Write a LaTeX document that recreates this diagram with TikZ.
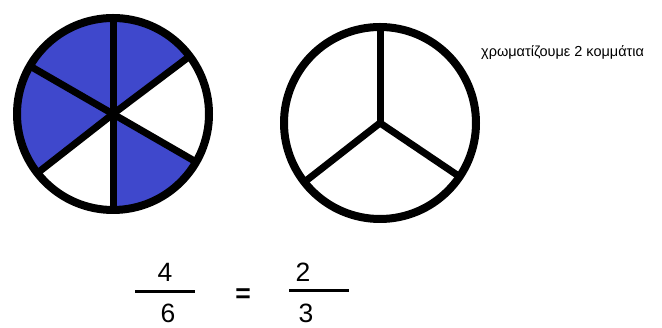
\documentclass[tikz,border=0pt]{standalone}
\usepackage{fontspec}
\setmainfont{Liberation Sans}
\usepackage{tikz}
\usetikzlibrary{positioning}
\definecolor{PieBlue}{HTML}{3F48CC}

\begin{document}
\begin{tikzpicture}[x=1pt, y=1pt, line join=round,
    rim/.style={draw=black, line width=8pt},
    spoke/.style={draw=black, line width=7pt},
    digit/.style={inner sep=0pt, anchor=base, font=\fontsize{26.5}{30}\selectfont},
    fracbar/.style={draw=black, line width=2.2pt}]
      \useasboundingbox (0,0) rectangle (662,328);

      % Centres
      \coordinate (sixths) at (113,214);
      \coordinate (thirds) at (380,205);

      % Coloured sixths
      \fill[PieBlue] (sixths) -- ++(90:96) arc (90:150:96) -- cycle;
      \fill[PieBlue] (sixths) -- ++(150:96) arc (150:217:96) -- cycle;
      \fill[PieBlue] (sixths) -- ++(37:96) arc (37:90:96) -- cycle;
      \fill[PieBlue] (sixths) -- ++(-90:96) arc (-90:-30:96) -- cycle;

      % Spokes and rims
      \foreach \a in {90,37,-30,-90,-142,150}
        \draw[spoke] (sixths) -- ++(\a:96);
      \draw[rim] (sixths) circle (96);

      \foreach \a in {90,-34,-142}
        \draw[spoke] (thirds) -- ++(\a:96);
      \draw[rim] (thirds) circle (96);

      % Nodes
      \node[inner sep=0pt, anchor=base west, font=\fontsize{14.5}{16}\selectfont] (note) at (481,271.5) {χρωματίζουμε 2 κομμάτια};

      \node[digit] (numa) at (165,46) {4};
      \node[digit] (dena) at (168,5.5) {6};
      \node[digit] (numb) at (303,46) {2};
      \node[digit] (denb) at (306,5.5) {3};
      \node[inner sep=0pt, font=\bfseries\fontsize{26.5}{30}\selectfont] (equals) at (243,32.5) {=};

      % Paths
      \coordinate (bara-w) at (135,36.5);
      \coordinate (bara-e) at (195,36.5);
      \coordinate (barb-w) at (289,37.5);
      \coordinate (barb-e) at (349,37.5);
      \draw[fracbar] (bara-w) -- (bara-e);
      \draw[fracbar] (barb-w) -- (barb-e);
    \end{tikzpicture}
\end{document}
